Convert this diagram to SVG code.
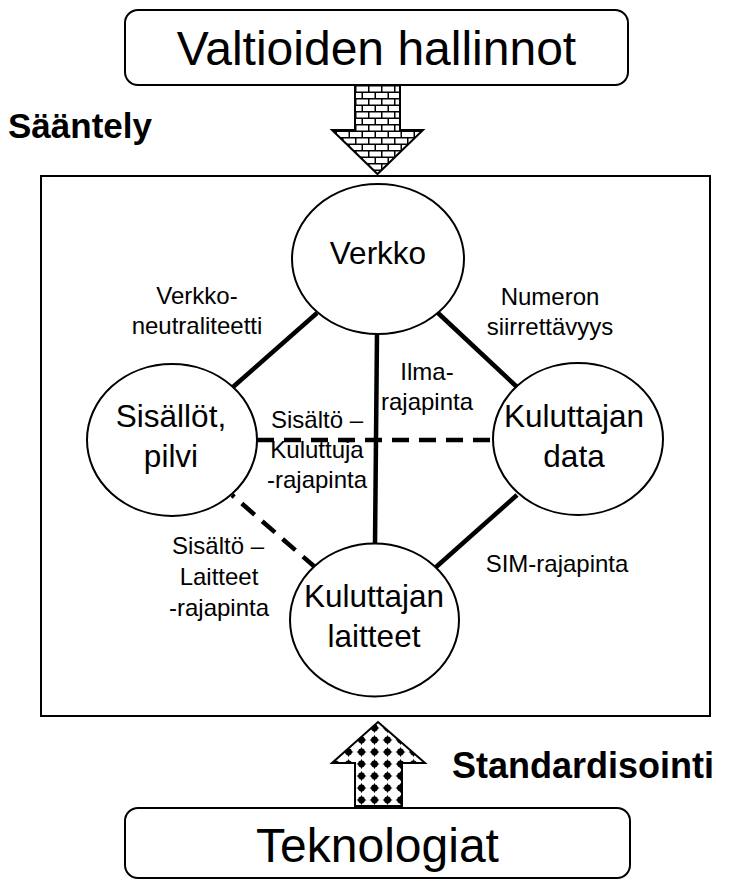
<svg xmlns="http://www.w3.org/2000/svg" width="730" height="881" viewBox="0 0 730 881">
<style>
.box{fill:#fff;stroke:#000;stroke-width:2}
.node{fill:#fff;stroke:#000;stroke-width:2}
.big{font-family:"Liberation Sans",Arial,sans-serif;font-size:48px;fill:#000;text-anchor:middle}
.nt{font-family:"Liberation Sans",Arial,sans-serif;font-size:31.5px;fill:#000;text-anchor:middle}
.lb{font-family:"Liberation Sans",Arial,sans-serif;font-size:24px;fill:#000;text-anchor:middle}
.bold{font-family:"Liberation Sans",Arial,sans-serif;font-weight:bold;fill:#000}
.solid{stroke:#000;stroke-width:4.5;fill:none}
.dash{stroke:#000;stroke-width:4.5;fill:none;stroke-dasharray:17 10}
.arrow{stroke:#000;stroke-width:2}
</style>
<defs>
<pattern id="brick" patternUnits="userSpaceOnUse" x="355" y="85" width="13" height="13">
<rect width="13" height="13" fill="#fff"/>
<path d="M0 0.75H13M0 7.25H13M0.75 0V6.5M7.25 6.5V13" stroke="#000" stroke-width="1.5" fill="none"/>
</pattern>
<pattern id="dots" patternUnits="userSpaceOnUse" x="355" y="722" width="13" height="12">
<rect width="13" height="12" fill="#fff"/>
<circle cx="6.5" cy="6" r="3.4" fill="#000"/>
<path d="M6.5 0.8L7.9 4.6L11.7 6L7.9 7.4L6.5 11.2L5.1 7.4L1.3 6L5.1 4.6Z" fill="#000"/>
</pattern>
</defs>

<g id="valtioiden-hallinnot">
<rect class="box" x="125" y="10" width="503" height="75" rx="13"/>
<text class="big" x="376.5" y="65">Valtioiden hallinnot</text>
</g>

<g id="saantely-arrow">
<path class="arrow" fill="url(#brick)" d="M355 85H400V130H423L377.5 174L332 130H355Z"/>
<text class="bold" x="8" y="138" font-size="35">Sääntely</text>
</g>

<g id="frame">
<rect x="41" y="176" width="669" height="540" fill="none" stroke="#000" stroke-width="2"/>
</g>

<g id="connectors">
<line class="solid" x1="317" y1="313" x2="233" y2="387"/>
<line class="solid" x1="438" y1="313" x2="517" y2="387"/>
<line class="solid" x1="377" y1="333" x2="375" y2="545"/>
<line class="solid" x1="517" y1="495" x2="435" y2="568"/>
<line class="dash" x1="257" y1="440" x2="493" y2="440"/>
<line class="dash" x1="232" y1="495" x2="316" y2="568" stroke-dashoffset="14"/>
</g>

<g id="labels">
<text class="lb" x="197" y="304">Verkko-</text>
<text class="lb" x="197" y="334">neutraliteetti</text>
<text class="lb" x="550" y="305">Numeron</text>
<text class="lb" x="550" y="335">siirrettävyys</text>
<text class="lb" x="427" y="380">Ilma-</text>
<text class="lb" x="427" y="410">rajapinta</text>
<text class="lb" x="317" y="428">Sisältö –</text>
<text class="lb" x="317" y="458">Kuluttuja</text>
<text class="lb" x="317" y="488">-rajapinta</text>
<text class="lb" x="218" y="554">Sisältö –</text>
<text class="lb" x="219" y="585">Laitteet</text>
<text class="lb" x="219" y="616">-rajapinta</text>
<text class="lb" x="557" y="572">SIM-rajapinta</text>
</g>

<g id="verkko">
<ellipse class="node" cx="378" cy="259" rx="86" ry="75"/>
<text class="nt" x="378" y="264">Verkko</text>
</g>

<g id="sisallot-pilvi">
<ellipse class="node" cx="172" cy="440" rx="85" ry="76"/>
<text class="nt" x="171" y="427">Sisällöt,</text>
<text class="nt" x="171" y="467">pilvi</text>
</g>

<g id="kuluttajan-data">
<ellipse class="node" cx="578" cy="439" rx="85" ry="76"/>
<text class="nt" x="574" y="427">Kuluttajan</text>
<text class="nt" x="574" y="467">data</text>
</g>

<g id="kuluttajan-laitteet">
<ellipse class="node" cx="374.5" cy="620" rx="84.5" ry="76.5"/>
<text class="nt" x="374" y="607">Kuluttajan</text>
<text class="nt" x="374" y="647">laitteet</text>
</g>

<g id="standardisointi-arrow">
<path class="arrow" fill="url(#dots)" d="M378 722L425 763H402V806H355V763H332Z"/>
<text class="bold" x="452" y="778" font-size="36">Standardisointi</text>
</g>

<g id="teknologiat">
<rect class="box" x="125" y="808" width="505" height="70" rx="13"/>
<text class="big" x="377.5" y="862">Teknologiat</text>
</g>
</svg>
